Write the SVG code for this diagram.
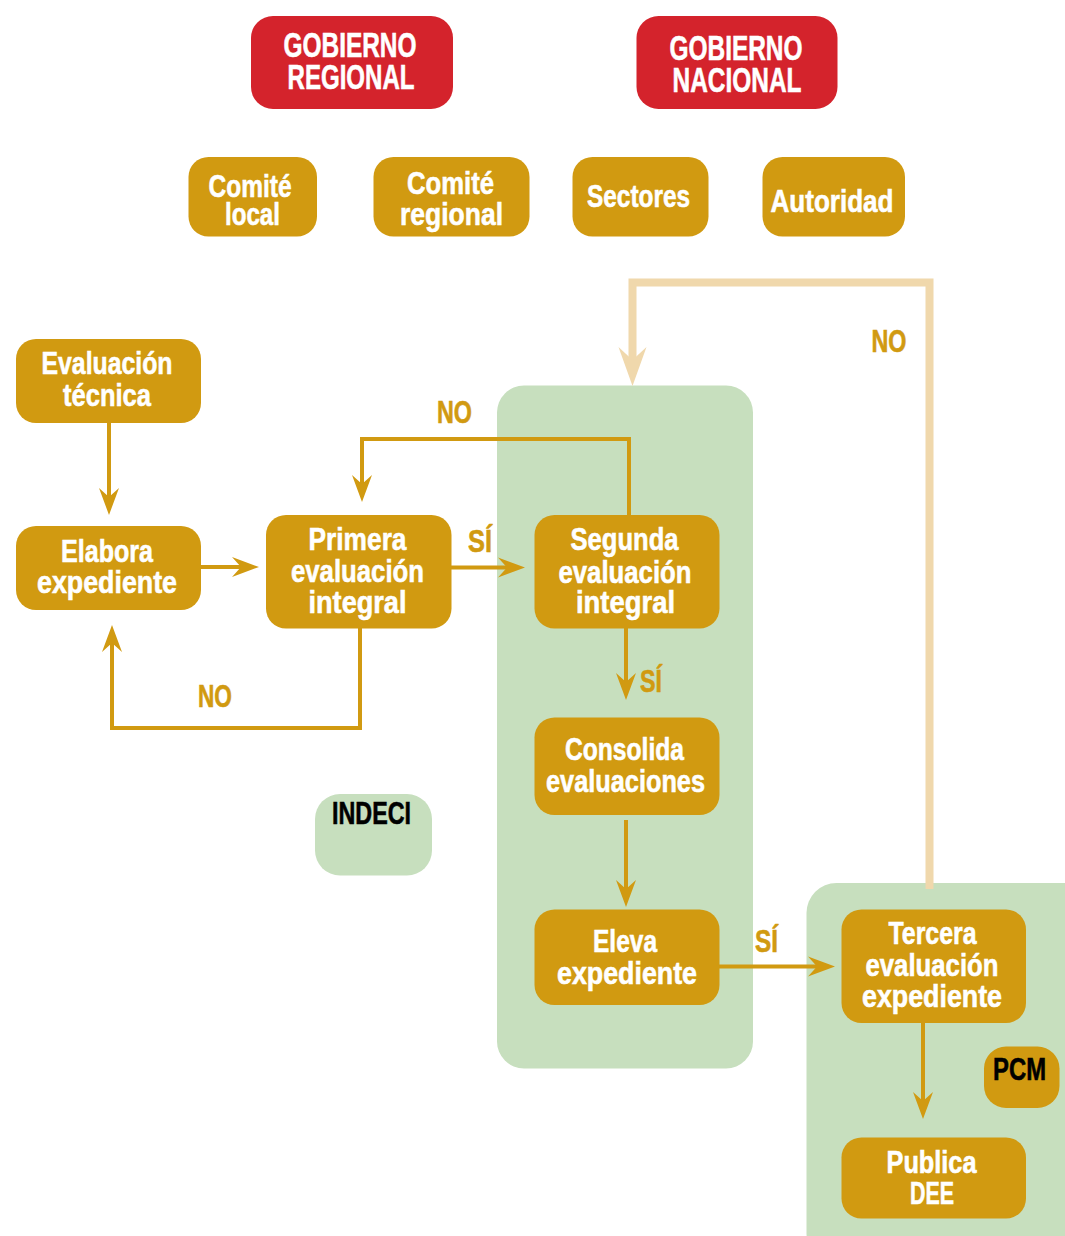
<svg xmlns="http://www.w3.org/2000/svg" width="1065" height="1236" viewBox="0 0 1065 1236">
<style>
.red{fill:#D4232C}
.gold{fill:#D19A11}
.green{fill:#C7DFBE}
text{font-family:"Liberation Sans",Arial,sans-serif;font-weight:bold;text-anchor:middle}
.w{fill:#FFFFFF;stroke:#FFFFFF;stroke-width:0.6;font-size:32px}
.h{fill:#FFFFFF;stroke:#FFFFFF;stroke-width:0.6;font-size:35px}
.k{fill:#000000;stroke:#000000;stroke-width:0.6;font-size:32px}
.lbl{fill:#D19A11;stroke:#D19A11;stroke-width:0.6;font-size:32px}
.con{fill:none;stroke:#D19A11;stroke-width:4}
.back{fill:none;stroke:#F0D8AC;stroke-width:8}
</style>
<defs>
<marker id="ah" markerUnits="userSpaceOnUse" orient="auto" markerWidth="30" markerHeight="24" viewBox="-10 -12 30 24" refX="0" refY="0">
<path d="M18,0 L-9,-10 L0,0 L-9,10 Z" fill="#D19A11"/>
</marker>
<marker id="ahTan" markerUnits="userSpaceOnUse" orient="auto" markerWidth="42" markerHeight="32" viewBox="-14 -16 42 32" refX="0" refY="0">
<path d="M26,0 L-13,-14 L0,0 L-13,14 Z" fill="#F0D8AC"/>
</marker>
</defs>
<rect width="1065" height="1236" fill="#FFFFFF"/>

<g id="panel-indeci-main">
<rect class="green" x="497" y="385.5" width="256" height="683" rx="27"/>
</g>
<g id="panel-pcm">
<rect class="green" x="806.5" y="883" width="290" height="380" rx="30"/>
</g>

<g id="connectors">
<path class="con" d="M109,422 V497" marker-end="url(#ah)"/>
<path class="con" d="M201,567 H241" marker-end="url(#ah)"/>
<path class="con" d="M451,567.5 H507" marker-end="url(#ah)"/>
<path class="con" d="M360,628 V728 H112 V643" marker-end="url(#ah)"/>
<path class="con" d="M629,515 V439 H362 V484" marker-end="url(#ah)"/>
<path class="con" d="M626,628 V682" marker-end="url(#ah)"/>
<path class="con" d="M626,820 V889" marker-end="url(#ah)"/>
<path class="con" d="M719,966.5 H817" marker-end="url(#ah)"/>
<path class="con" d="M923,1023 V1101" marker-end="url(#ah)"/>
<path class="back" d="M929.5,889 V282.5 H632.5 V360" marker-end="url(#ahTan)"/>
<text class="lbl" x="454.5" y="423" textLength="35" lengthAdjust="spacingAndGlyphs">NO</text>
<text class="lbl" x="480" y="551.5" textLength="24" lengthAdjust="spacingAndGlyphs">SÍ</text>
<text class="lbl" x="215" y="706.5" textLength="34" lengthAdjust="spacingAndGlyphs">NO</text>
<text class="lbl" x="651" y="691.5" textLength="22" lengthAdjust="spacingAndGlyphs">SÍ</text>
<text class="lbl" x="766.5" y="952" textLength="23" lengthAdjust="spacingAndGlyphs">SÍ</text>
<text class="lbl" x="889" y="351.5" textLength="35" lengthAdjust="spacingAndGlyphs">NO</text>
</g>

<g id="gobierno-regional">
<rect class="red" x="251" y="16" width="202" height="93" rx="22"/>
<text class="h" x="350" y="57" textLength="133" lengthAdjust="spacingAndGlyphs">GOBIERNO</text>
<text class="h" x="351" y="89" textLength="127" lengthAdjust="spacingAndGlyphs">REGIONAL</text>
</g>
<g id="gobierno-nacional">
<rect class="red" x="636.5" y="16" width="201" height="93" rx="22"/>
<text class="h" x="736" y="59.5" textLength="133" lengthAdjust="spacingAndGlyphs">GOBIERNO</text>
<text class="h" x="737" y="92" textLength="129" lengthAdjust="spacingAndGlyphs">NACIONAL</text>
</g>

<g id="comite-local">
<rect class="gold" x="188.5" y="157" width="128.5" height="79.5" rx="20"/>
<text class="w" x="250" y="196.5" textLength="83" lengthAdjust="spacingAndGlyphs">Comité</text>
<text class="w" x="252.5" y="225" textLength="55" lengthAdjust="spacingAndGlyphs">local</text>
</g>
<g id="comite-regional">
<rect class="gold" x="373.5" y="157" width="156" height="79.5" rx="20"/>
<text class="w" x="450.5" y="193.5" textLength="87" lengthAdjust="spacingAndGlyphs">Comité</text>
<text class="w" x="451.5" y="225" textLength="103" lengthAdjust="spacingAndGlyphs">regional</text>
</g>
<g id="sectores">
<rect class="gold" x="572.5" y="157" width="136" height="79.5" rx="20"/>
<text class="w" x="638.5" y="206.5" textLength="103" lengthAdjust="spacingAndGlyphs">Sectores</text>
</g>
<g id="autoridad">
<rect class="gold" x="762.5" y="157" width="142.5" height="79.5" rx="20"/>
<text class="w" x="832" y="211.5" textLength="123" lengthAdjust="spacingAndGlyphs">Autoridad</text>
</g>

<g id="evaluacion-tecnica">
<rect class="gold" x="16" y="339" width="185" height="84" rx="20"/>
<text class="w" x="107" y="374" textLength="131" lengthAdjust="spacingAndGlyphs">Evaluación</text>
<text class="w" x="107" y="406" textLength="88" lengthAdjust="spacingAndGlyphs">técnica</text>
</g>
<g id="elabora-expediente">
<rect class="gold" x="16" y="526" width="185" height="84" rx="20"/>
<text class="w" x="107" y="561.5" textLength="92" lengthAdjust="spacingAndGlyphs">Elabora</text>
<text class="w" x="107" y="593" textLength="140" lengthAdjust="spacingAndGlyphs">expediente</text>
</g>
<g id="primera-evaluacion">
<rect class="gold" x="266" y="515" width="185.5" height="113.5" rx="20"/>
<text class="w" x="357.5" y="550" textLength="98" lengthAdjust="spacingAndGlyphs">Primera</text>
<text class="w" x="357.5" y="581.5" textLength="133" lengthAdjust="spacingAndGlyphs">evaluación</text>
<text class="w" x="357.5" y="613" textLength="98" lengthAdjust="spacingAndGlyphs">integral</text>
</g>
<g id="segunda-evaluacion">
<rect class="gold" x="534.5" y="515" width="185" height="113.5" rx="20"/>
<text class="w" x="624.5" y="550" textLength="108" lengthAdjust="spacingAndGlyphs">Segunda</text>
<text class="w" x="625" y="582.5" textLength="133" lengthAdjust="spacingAndGlyphs">evaluación</text>
<text class="w" x="625.5" y="613" textLength="99" lengthAdjust="spacingAndGlyphs">integral</text>
</g>
<g id="consolida-evaluaciones">
<rect class="gold" x="534.5" y="717.5" width="185" height="97.5" rx="20"/>
<text class="w" x="624.5" y="760" textLength="119" lengthAdjust="spacingAndGlyphs">Consolida</text>
<text class="w" x="625.5" y="791.5" textLength="159" lengthAdjust="spacingAndGlyphs">evaluaciones</text>
</g>
<g id="eleva-expediente">
<rect class="gold" x="534.5" y="909.5" width="185" height="95.5" rx="20"/>
<text class="w" x="625" y="951.5" textLength="64" lengthAdjust="spacingAndGlyphs">Eleva</text>
<text class="w" x="627" y="983.5" textLength="140" lengthAdjust="spacingAndGlyphs">expediente</text>
</g>
<g id="indeci">
<rect class="green" x="315" y="794" width="117" height="81.5" rx="25"/>
<text class="k" x="371.5" y="824" textLength="79" lengthAdjust="spacingAndGlyphs">INDECI</text>
</g>
<g id="tercera-evaluacion">
<rect class="gold" x="841.5" y="909.5" width="184.5" height="113.5" rx="20"/>
<text class="w" x="932.5" y="944" textLength="88" lengthAdjust="spacingAndGlyphs">Tercera</text>
<text class="w" x="932" y="976" textLength="133" lengthAdjust="spacingAndGlyphs">evaluación</text>
<text class="w" x="932" y="1006.5" textLength="140" lengthAdjust="spacingAndGlyphs">expediente</text>
</g>
<g id="pcm">
<rect class="gold" x="984" y="1046.5" width="75.5" height="61.5" rx="22"/>
<text class="k" x="1019.5" y="1080" textLength="53" lengthAdjust="spacingAndGlyphs">PCM</text>
</g>
<g id="publica-dee">
<rect class="gold" x="841.5" y="1137.5" width="184.5" height="81" rx="20"/>
<text class="w" x="931.5" y="1172.5" textLength="90" lengthAdjust="spacingAndGlyphs">Publica</text>
<text class="w" x="932" y="1204" textLength="44" lengthAdjust="spacingAndGlyphs">DEE</text>
</g>
</svg>
